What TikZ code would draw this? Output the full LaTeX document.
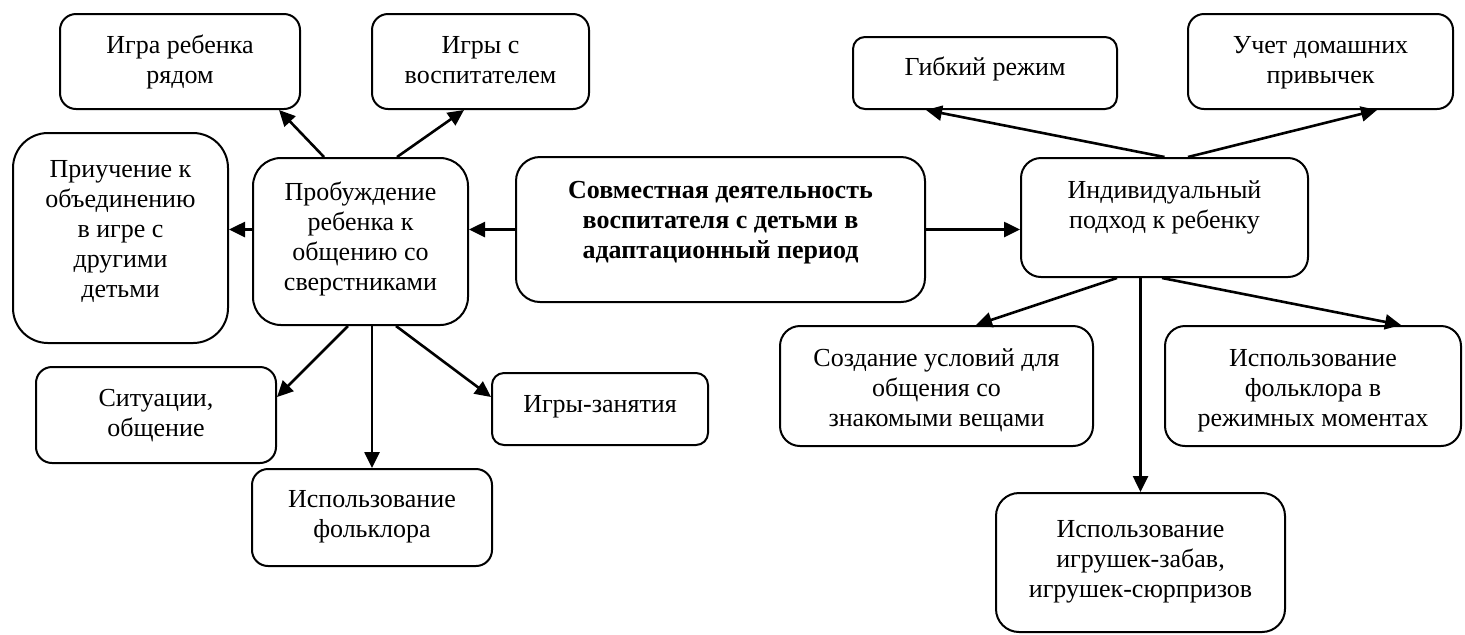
\documentclass[tikz,border=0pt]{standalone}
\usepackage{fontspec}
\setmainfont{Liberation Serif}
\usetikzlibrary{arrows.meta}
\tikzstyle{rb}=[draw, line width=1pt, inner sep=0pt, rounded corners=8pt]
\newcommand{\btext}[4][20pt]{\parbox[c][#3][t]{#2}{\fontsize{13}{15}\selectfont\centering\rule{0pt}{#1}#4}}

\begin{document}
\begin{tikzpicture}
[->, line width=1.3pt, -{Triangle[length=8pt,width=7.5pt]}, x=0.5pt, y=-0.5pt]
 \useasboundingbox (0,0) rectangle (1465,634);
 % left part
 \node[rb] (rjadom) at (180,61.5) {\btext[19.5pt]{120pt}{47.5pt}{Игра ребенка\\рядом}};
 \node[rb] (vospit) at (480.5,61.5) {\btext[19.5pt]{108.5pt}{47.5pt}{Игры с\\воспитателем}};
 \node[rb, rounded corners=17.5pt] (priuch) at (120.5,238) {\btext[22pt]{107.5pt}{105pt}{Приучение к\\объединению\\в игре с\\другими\\детьми}};
 \node[rb, rounded corners=14pt] (probuzh) at (360.5,241.5) {\btext[21pt]{107.5pt}{83.5pt}{Пробуждение\\ребенка к\\общению со\\сверстниками}};
 \node[rb] (situacii) at (156,415) {\btext[19.5pt]{120pt}{48pt}{Ситуации,\\общение}};
 \node[rb, rounded corners=6pt] (igryzan) at (600,409) {\btext[19.5pt]{108pt}{36pt}{Игры-занятия}};
 \node[rb] (folklor) at (372,517.5) {\btext[19pt]{120pt}{48.5pt}{Использование\\фольклора}};
 % middle
 \node[rb, rounded corners=12pt] (center) at (720.5,229.5) {\btext[20.5pt]{204.5pt}{72.5pt}{\bfseries Совместная деятельность\\воспитателя с детьми в\\адаптационный период}};
 % right part
 \node[rb, rounded corners=10pt] (indiv) at (1164.5,217.5) {\btext{143.5pt}{59.5pt}{Индивидуальный\\подход к ребенку}};
 \node[rb, rounded corners=6pt] (gibkij) at (985,73) {\btext[19pt]{132pt}{36pt}{Гибкий режим}};
 \node[rb] (uchet) at (1320.5,61.5) {\btext[19.5pt]{132.5pt}{47.5pt}{Учет домашних\\привычек}};
 \node[rb, rounded corners=10pt] (sozdanie) at (936.5,386) {\btext{156.5pt}{60pt}{Создание условий для\\общения со\\знакомыми вещами}};
 \node[rb, rounded corners=10pt] (folkrezh) at (1313,386) {\btext{148pt}{60pt}{Использование\\фольклора в\\режимных моментах}};
 \node[rb, rounded corners=11.5pt] (igrushki) at (1140.5,562.5) {\btext[22pt]{144.5pt}{69.5pt}{Использование\\игрушек-забав,\\игрушек-сюрпризов}};
 \path[]
   (center.west) edge (probuzh.east |- center.west)
   (probuzh.west |- center.west) edge (priuch.east |- center.west)
   ([xshift=-18.25pt]probuzh.north) edge ([xshift=49.5pt]rjadom.south)
   ([xshift=18.25pt]probuzh.north) edge ([xshift=-8.25pt]vospit.south)
   ([xshift=-6.25pt]probuzh.south) edge ([yshift=9pt]situacii.east)
   (folklor.north |- probuzh.south) edge (folklor.north)
   ([xshift=17.75pt]probuzh.south) edge ([yshift=6pt]igryzan.west)
   (center.east) edge (indiv.west |- center.east)
   (indiv.north) edge ([xshift=-29.5pt]gibkij.south)
   ([xshift=11.75pt]indiv.north) edge ([xshift=28.25pt]uchet.south)
   ([xshift=-23.75pt]indiv.south) edge ([xshift=19.75pt]sozdanie.north)
   (igrushki.north |- indiv.south) edge (igrushki.north)
   ([xshift=-1.25pt]indiv.south) edge ([xshift=44pt]folkrezh.north);
\end{tikzpicture}
\end{document}
